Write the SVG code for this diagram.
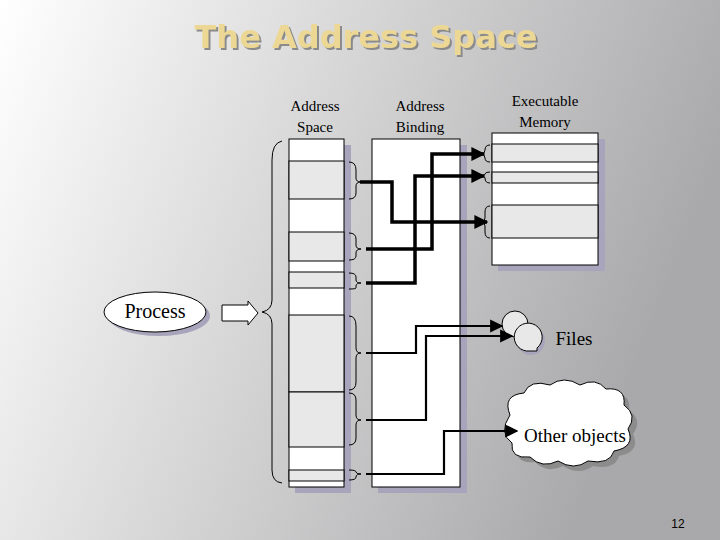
<svg xmlns="http://www.w3.org/2000/svg" width="720" height="540" viewBox="0 0 720 540">
<defs>
<linearGradient id="bg" x1="0" y1="0" x2="1" y2="0.3"><stop offset="0" stop-color="#ffffff"/><stop offset="1" stop-color="#a9a9ab"/></linearGradient>
<filter id="ds" x="-5%" y="-20%" width="110%" height="150%"><feDropShadow dx="2" dy="2" stdDeviation="0.3" flood-color="#8a8a8a" flood-opacity="1"/></filter>
<marker id="ah" viewBox="0 0 10 10" refX="9" refY="5" markerWidth="4" markerHeight="4" orient="auto"><path d="M0,0 L10,5 L0,10 z" fill="#000"/></marker>
<marker id="ah2" viewBox="0 0 10 10" refX="9" refY="5" markerWidth="6" markerHeight="6" orient="auto"><path d="M0,0 L10,5 L0,10 z" fill="#000"/></marker>
</defs>
<style>
.lbl{font-family:"Liberation Serif",serif;font-size:15px;fill:#000;text-anchor:middle}
.cell{fill:#fff;stroke:#000;stroke-width:1}
.sh{fill:#e8e8e8;stroke:#000;stroke-width:1}
.shadow{fill:#a8a4bc}
.br{fill:none;stroke:#000;stroke-width:1}
.thick{fill:none;stroke:#000;stroke-width:3.5}
.thin{fill:none;stroke:#000;stroke-width:2.2}
</style>
<rect width="720" height="540" fill="url(#bg)"/>
<text x="366" y="48" font-family="DejaVu Sans,sans-serif" font-weight="bold" font-size="32" text-anchor="middle" fill="#ecd894" filter="url(#ds)">The Address Space</text>
<text class="lbl" x="315" y="111">Address</text><text class="lbl" x="315" y="132">Space</text>
<text class="lbl" x="420" y="111">Address</text><text class="lbl" x="420" y="132">Binding</text>
<text class="lbl" x="545" y="106">Executable</text><text class="lbl" x="545" y="127">Memory</text>
<g id="addr-space">
<rect class="shadow" x="295" y="145" width="56" height="348"/>
<rect class="cell" x="289" y="139" width="55" height="348"/>
<rect class="sh" x="289" y="161" width="55" height="38"/>
<rect class="sh" x="289" y="232" width="55" height="29"/>
<rect class="sh" x="289" y="272" width="55" height="16"/>
<rect class="sh" x="289" y="315" width="55" height="77"/>
<rect class="sh" x="289" y="392" width="55" height="55"/>
<rect class="sh" x="289" y="470" width="55" height="11"/>
</g>
<g id="binding">
<rect class="shadow" x="378" y="145" width="89" height="348"/>
<rect class="cell" x="372" y="139" width="88" height="348"/>
</g>
<g id="memory">
<rect class="shadow" x="498" y="139" width="107" height="132"/>
<rect class="cell" x="492" y="133" width="106" height="132"/>
<rect class="sh" x="492" y="144" width="106" height="18"/>
<rect class="sh" x="492" y="172" width="106" height="11"/>
<rect class="sh" x="492" y="205" width="106" height="33"/>
</g>
<g id="braces">
<path class="br" d="M282,141 Q272,143 272,160 L272,300 Q272,310 262,312 Q272,314 272,324 L272,470 Q272,482 282,483"/>
<path class="br" d="M349,162 Q356,162 356,170 L356,178 Q356,182 361,182 Q356,182 356,186 L356,193 Q356,199 349,199"/>
<path class="br" d="M349,233 Q356,233 356,239 L356,245 Q356,249 361,249 Q356,249 356,253 L356,256 Q356,260 349,260"/>
<path class="br" d="M349,273 Q356,273 356,277 L356,280 Q356,283 361,283 Q356,283 356,286 L356,288 Q356,289 349,289"/>
<path class="br" d="M349,316 Q356,316 356,326 L356,348 Q356,353 361,353 Q356,353 356,358 L356,382 Q356,390 349,390"/>
<path class="br" d="M349,393 Q356,393 356,400 L356,415 Q356,420 361,420 Q356,420 356,425 L356,438 Q356,445 349,445"/>
<path class="br" d="M349,470 Q356,470 356,472 Q356,474 361,474 Q356,474 356,477 Q356,480 349,480"/>
<path class="br" d="M490,145 Q485,145 485,150 Q485,154 481,154 Q485,154 485,158 Q485,162 490,162"/>
<path class="br" d="M490,172 Q485,172 485,174 Q485,176 481,176 Q485,176 485,178 Q485,183 490,183"/>
<path class="br" d="M490,206 Q485,206 485,212 L485,218 Q485,222 481,222 Q485,222 485,226 L485,232 Q485,238 490,238"/>
</g>
<g id="process">
<ellipse cx="159" cy="316" rx="51" ry="20" fill="#a8a4bc"/>
<ellipse cx="155" cy="312" rx="51" ry="20" fill="#fff" stroke="#000"/>
<text x="155" y="318" font-family="Liberation Serif,serif" font-size="20" text-anchor="middle">Process</text>
<path d="M222,305 L248,305 L248,301 L258,313 L248,325 L248,321 L222,321 z" fill="#fff" stroke="#000"/>
</g>
<g id="files">
<circle cx="531" cy="341" r="14" fill="#a8a4bc"/>
<circle cx="515" cy="324" r="13" fill="#e8e8e8" stroke="#000"/>
<path d="M537,348 L537,351 L530,351 A14,14 0 1 1 537,348 z" fill="#e8e8e8" stroke="#000"/>
<text x="574" y="345" font-family="Liberation Serif,serif" font-size="19" text-anchor="middle">Files</text>
</g>
<g id="other">
<path d="M510,415 q-8,-20 14,-22 q6,-14 26,-8 q14,-10 30,0 q16,-8 26,4 q20,-2 18,16 q14,10 4,24 q8,18 -14,22 q-4,14 -26,10 q-14,10 -30,0 q-16,8 -28,-4 q-20,2 -18,-14 q-14,-10 -2,-28 z" fill="#8c8c8c" transform="translate(5,5)"/>
<path d="M510,415 q-8,-20 14,-22 q6,-14 26,-8 q14,-10 30,0 q16,-8 26,4 q20,-2 18,16 q14,10 4,24 q8,18 -14,22 q-4,14 -26,10 q-14,10 -30,0 q-16,8 -28,-4 q-20,2 -18,-14 q-14,-10 -2,-28 z" fill="#fff" stroke="#000"/>
<text x="575" y="442" font-family="Liberation Serif,serif" font-size="19" text-anchor="middle">Other objects</text>
</g>
<g id="connectors">
<path class="thick" d="M360,182 L392,182 L392,222 L487,222" marker-end="url(#ah)"/>
<path class="thick" d="M366,249 L432,249 L432,154 L484,154" marker-end="url(#ah)"/>
<path class="thick" d="M366,283 L415,283 L415,176 L484,176" marker-end="url(#ah)"/>
<path class="thin" d="M366,353 L416,353 L416,326 L502,326" marker-end="url(#ah2)"/>
<path class="thin" d="M366,420 L426,420 L426,336 L512,336" marker-end="url(#ah2)"/>
<path class="thin" d="M366,474 L444,474 L444,431 L517,431" marker-end="url(#ah2)"/>
</g>
<text x="678" y="528" font-family="Liberation Sans,sans-serif" font-size="12" text-anchor="middle">12</text>
</svg>
